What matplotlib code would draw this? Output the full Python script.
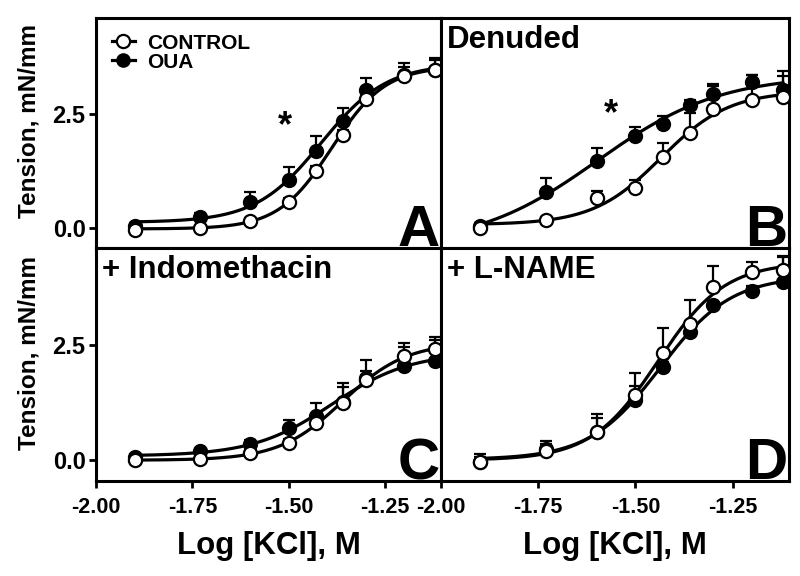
import numpy as np
import matplotlib
matplotlib.use("Agg")
import matplotlib.pyplot as plt
from matplotlib.lines import Line2D

# ---------------- data ----------------
log_kcl = [-1.90, -1.73, -1.60, -1.50, -1.43, -1.36, -1.30, -1.20, -1.12]

control_A = [-0.05, 0.00, 0.15, 0.57, 1.24, 2.03, 2.82, 3.32, 3.45]
control_A_err = [0.03, 0.03, 0.05, 0.08, 0.10, 0.12, 0.15, 0.20, 0.22]
oua_A = [0.04, 0.24, 0.55, 1.04, 1.69, 2.34, 3.01, 3.34, 3.45]
oua_A_err = [0.05, 0.08, 0.24, 0.29, 0.31, 0.29, 0.28, 0.27, 0.28]

control_B = [-0.01, 0.17, 0.64, 0.86, 1.55, 2.08, 2.61, 2.79, 2.87]
control_B_err = [0.05, 0.05, 0.17, 0.18, 0.31, 0.44, 0.50, 0.55, 0.57]
oua_B = [0.04, 0.77, 1.46, 2.01, 2.28, 2.70, 2.94, 3.20, 3.03]
oua_B_err = [0.05, 0.31, 0.29, 0.19, 0.17, 0.10, 0.20, 0.15, 0.29]

control_C = [0.00, 0.02, 0.15, 0.38, 0.80, 1.24, 1.73, 2.25, 2.41]
control_C_err = [0.03, 0.03, 0.05, 0.08, 0.10, 0.35, 0.20, 0.30, 0.26]
oua_C = [0.06, 0.20, 0.36, 0.69, 0.96, 1.26, 1.78, 2.04, 2.15]
oua_C_err = [0.03, 0.05, 0.08, 0.19, 0.27, 0.42, 0.39, 0.42, 0.46]

control_D = [-0.04, 0.20, 0.62, 1.42, 2.33, 2.96, 3.76, 4.07, 4.13]
control_D_err = [0.18, 0.22, 0.38, 0.46, 0.53, 0.51, 0.46, 0.23, 0.27]
oua_D = [-0.04, 0.25, 0.62, 1.31, 2.02, 2.78, 3.36, 3.67, 3.87]
oua_D_err = [0.10, 0.10, 0.29, 0.29, 0.10, 0.10, 0.10, 0.10, 0.55]

panel_letters = ["A", "B", "C", "D"]
panel_titles = ["", "Denuded", "+ Indomethacin", "+ L-NAME"]
series_labels = ["CONTROL", "OUA"]
x_ticks = [-2.00, -1.75, -1.50, -1.25]
x_tick_labels = ["-2.00", "-1.75", "-1.50", "-1.25"]
y_ticks = [0.0, 2.5]
y_tick_labels = ["0.0", "2.5"]
x_label = "Log [KCl], M"
y_label = "Tension, mN/mm"
# significance marks: (panel index, x, y)
star_marks = [(0, -1.51, 2.22), (1, -1.562, 2.47)]

panels = [
    (control_A, control_A_err, oua_A, oua_A_err),
    (control_B, control_B_err, oua_B, oua_B_err),
    (control_C, control_C_err, oua_C, oua_C_err),
    (control_D, control_D_err, oua_D, oua_D_err),
]

FONT = "Liberation Sans"


def fit_sigmoid(x, y):
    """Least-squares 4-parameter logistic fit (grid search on EC50/Hill)."""
    x = np.asarray(x, float)
    y = np.asarray(y, float)
    ec = np.linspace(-1.95, -1.05, 451)
    hs = np.linspace(1.0, 12.0, 221)
    E, H = np.meshgrid(ec, hs, indexing="ij")
    S = 1.0 / (1.0 + 10 ** ((E[..., None] - x) * H[..., None]))
    A1 = 1 - S
    A2 = S
    a11 = (A1 * A1).sum(-1)
    a12 = (A1 * A2).sum(-1)
    a22 = (A2 * A2).sum(-1)
    r1 = (A1 * y).sum(-1)
    r2 = (A2 * y).sum(-1)
    det = a11 * a22 - a12 ** 2
    det[det == 0] = np.nan
    b = (a22 * r1 - a12 * r2) / det
    t = (a11 * r2 - a12 * r1) / det
    pred = b[..., None] * A1 + t[..., None] * A2
    sse = ((pred - y) ** 2).sum(-1)
    i = np.unravel_index(np.nanargmin(sse), sse.shape)
    return b[i], t[i], E[i], H[i]


def sigmoid(x, b, t, ec, h):
    return b + (t - b) / (1 + 10 ** ((ec - x) * h))


W, Hh = 800, 576
fig = plt.figure(figsize=(8, 5.76), dpi=100)
L, M, R = 96 / W, 441 / W, 789 / W
T, MID, BOT = 1 - 18 / Hh, 1 - 248 / Hh, 1 - 481 / Hh
rects = [
    [L, MID, M - L, T - MID],
    [M, MID, R - M, T - MID],
    [L, BOT, M - L, MID - BOT],
    [M, BOT, R - M, MID - BOT],
]

xlim = (-2.0, -1.105)
ylim = (-0.45, 4.6)
ms = 9.5
lw_curve = 2.3
for k, (rect, data) in enumerate(zip(rects, panels)):
    ax = fig.add_axes(rect)
    ctrl, ctrl_err, oua, oua_err = data
    xs = np.linspace(min(log_kcl), max(log_kcl), 300)
    for yv in (ctrl, oua):
        p = fit_sigmoid(log_kcl, yv)
        ax.plot(xs, sigmoid(xs, *p), color="black", lw=lw_curve, zorder=2,
                solid_capstyle="round")
    # error bars (upper only)
    for yv, ev in ((ctrl, ctrl_err), (oua, oua_err)):
        ax.errorbar(log_kcl, yv, yerr=[np.zeros(len(ev)), ev], fmt="none",
                    ecolor="black", elinewidth=1.6, capsize=4.5, capthick=1.6,
                    zorder=3)
    ax.plot(log_kcl, oua, linestyle="none", marker="o", ms=ms,
            mfc="black", mec="black", mew=1.5, zorder=4)
    ax.plot(log_kcl, ctrl, linestyle="none", marker="o", ms=ms,
            mfc="white", mec="black", mew=1.6, zorder=5)

    ax.set_xlim(*xlim)
    ax.set_ylim(*ylim)
    for s in ax.spines.values():
        s.set_linewidth(2.2)
    ax.tick_params(width=2.0, length=5.0, direction="out")
    if k in (0, 2):
        ax.set_yticks(y_ticks)
        ax.set_yticklabels(y_tick_labels, fontsize=17, fontweight="bold",
                           family=FONT)
        ax.tick_params(axis="y", pad=2.5)
    else:
        ax.set_yticks([])
    if k in (2, 3):
        ax.set_xticks(x_ticks)
        ax.set_xticklabels(x_tick_labels, fontsize=15.5,
                           fontweight="bold", family=FONT)
        ax.tick_params(axis="x", pad=6.5)
    else:
        ax.set_xticks([])

    ax.text(0.995, 0.008, panel_letters[k], transform=ax.transAxes,
            ha="right", va="baseline", fontsize=42, fontweight="bold",
            family=FONT, zorder=6)
    if panel_titles[k]:
        ax.text(0.018, 0.968, panel_titles[k], transform=ax.transAxes,
                ha="left", va="top", fontsize=22.5, fontweight="bold",
                family=FONT, zorder=6)

    for (pk, sx, sy) in star_marks:
        if pk == k:
            ax.text(sx, sy, "*", ha="center", va="center", fontsize=26,
                    fontweight="bold", family=FONT)

    if k == 0:
        handles = [
            Line2D([], [], color="black", lw=lw_curve, marker="o", ms=ms,
                   mfc="white", mec="black", mew=1.6),
            Line2D([], [], color="black", lw=lw_curve, marker="o", ms=ms,
                   mfc="black", mec="black"),
        ]
        ax.legend(handles, series_labels, loc="upper left", frameon=False,
                  prop={"family": FONT, "weight": "bold", "size": 15},
                  handlelength=1.1, handletextpad=0.6, labelspacing=0.0,
                  borderaxespad=0.55, borderpad=0.2)

# axis labels
for yc in ((T + MID) / 2 + 0.02, (MID + BOT) / 2 + 0.02):
    fig.text(29 / W, yc, y_label, rotation=90, ha="center", va="center",
             fontsize=17.5, fontweight="bold", family=FONT)
for xc in ((L + M) / 2, (M + R) / 2):
    fig.text(xc, 1 - 546 / Hh, x_label, ha="center", va="center",
             fontsize=22.5, fontweight="bold", family=FONT)

fig.savefig("out.png", dpi=100)
